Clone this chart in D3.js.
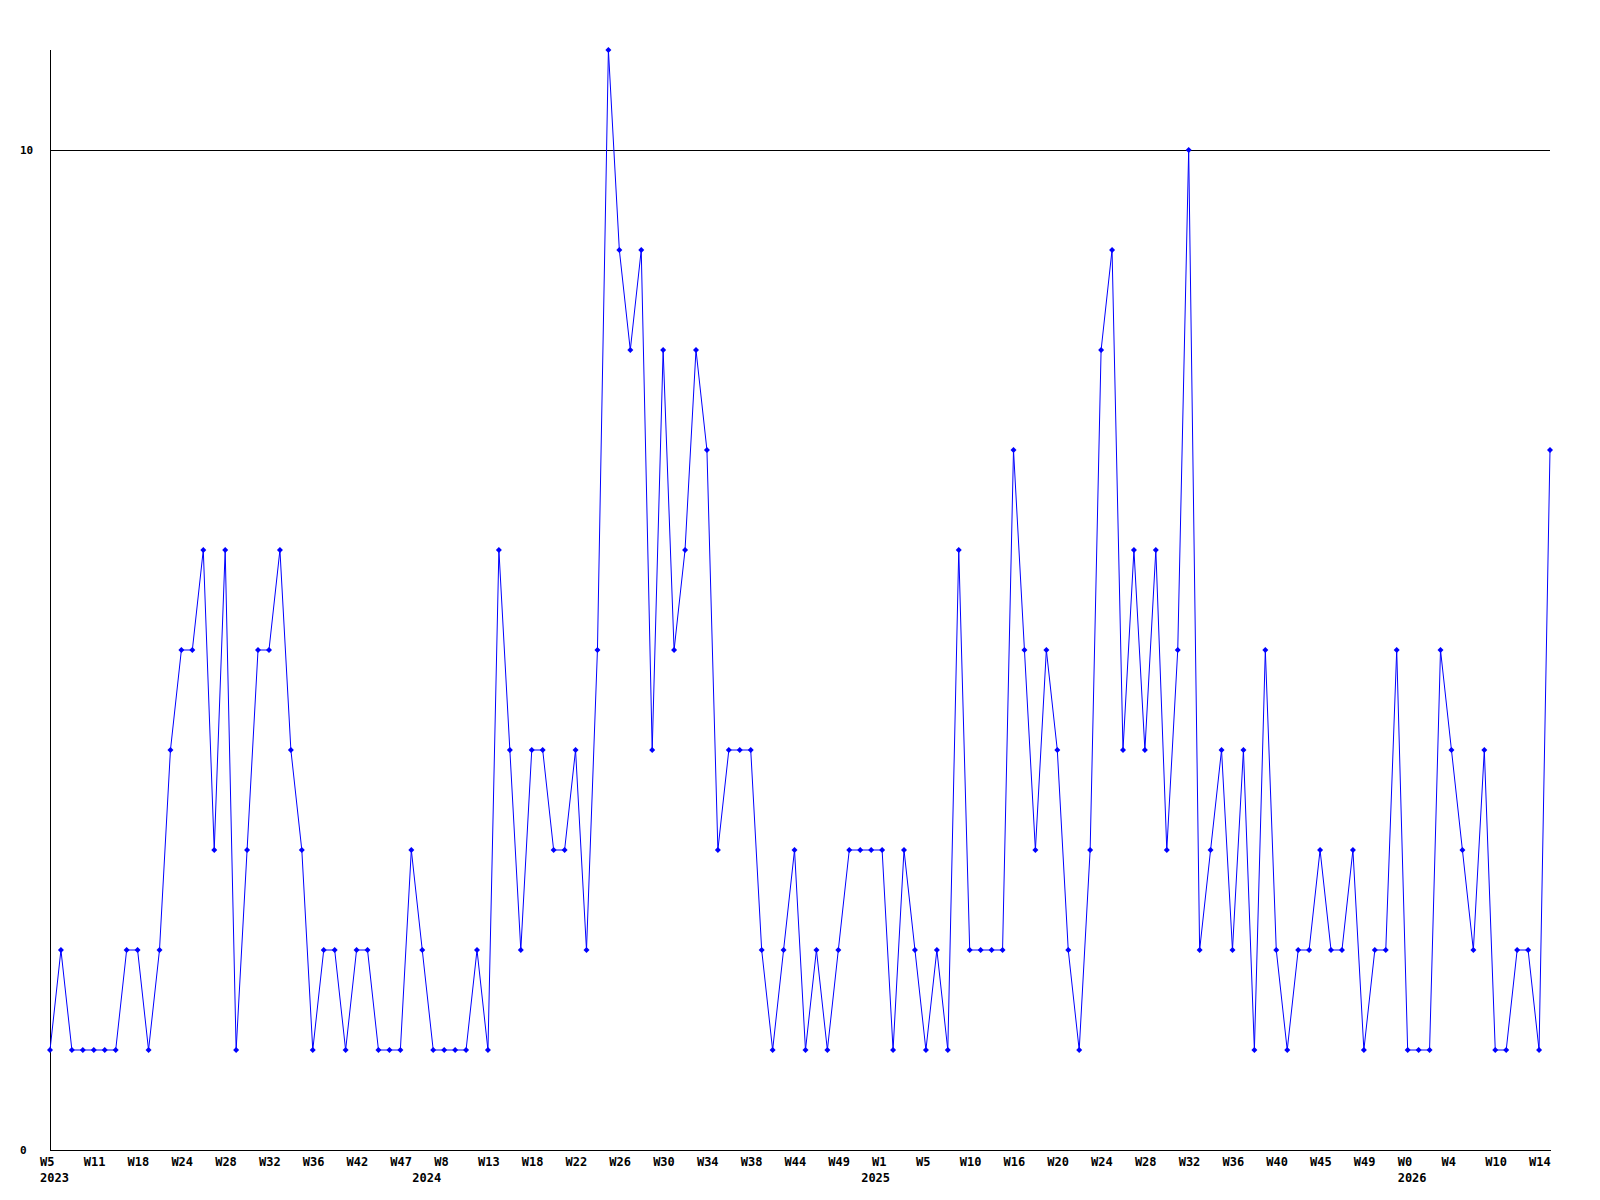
<!DOCTYPE html>
<html>
<head>
<meta charset="utf-8">
<script src="https://cdn.jsdelivr.net/npm/d3@7"></script>
<style>
  html, body { margin: 0; padding: 0; background: #ffffff; }
  svg { display: block; }
</style>
</head>
<body>
<svg id="chart" width="1600" height="1200"></svg>
<script>
// ---- data ----
const values = [
  1,2,1,1,1,1,1,2,2,1,2,
  4,5,5,6,3,6,1,3,5,5,
  6,4,3,1,2,2,1,2,2,1,
  1,1,3,2,1,1,1,1,2,1,
  6,4,2,4,4,3,3,4,2,5,
  11,9,8,9,4,8,5,6,8,7,
  3,4,4,4,2,1,2,3,1,2,
  1,2,3,3,3,3,1,3,2,1,
  2,1,6,2,2,2,2,7,5,3,
  5,4,2,1,3,8,9,4,6,4,
  6,3,5,10,2,3,4,2,4,1,
  5,2,1,2,2,3,2,2,3,1,
  2,2,5,1,1,1,5,4,3,2,
  4,1,1,2,2,1,7
];
const weekLabels = ["W5","W11","W18","W24","W28","W32","W36","W42","W47","W8","W13","W18",
  "W22","W26","W30","W34","W38","W44","W49","W1","W5","W10","W16","W20","W24","W28",
  "W32","W36","W40","W45","W49","W0","W4","W10","W14"];
const weekLabelStep = 4;
const yearLabels = ["2023","2024","2025","2026"];
const yearStartIndex = [0, 34, 75, 124];
const yTicks = [0, 10];

// ---- layout ----
const plotLeft = 50, plotRight = 1550, plotTop = 50, plotBottom = 1150;
const svg = d3.select("#chart");

const x = d3.scaleLinear().domain([0, values.length - 1]).range([plotLeft, plotRight]);
const y = d3.scaleLinear().domain([0, 11]).range([plotBottom, plotTop]);

// grid line(s)
svg.append("g").selectAll("line")
  .data(yTicks.filter(t => t !== 0))
  .join("line")
  .attr("x1", plotLeft).attr("x2", plotRight)
  .attr("y1", d => Math.round(y(d)) + 0.5).attr("y2", d => Math.round(y(d)) + 0.5)
  .attr("stroke", "#000").attr("stroke-width", 1)
  .attr("shape-rendering", "crispEdges");

// axes
svg.append("line")
  .attr("x1", plotLeft + 0.5).attr("x2", plotLeft + 0.5)
  .attr("y1", plotTop).attr("y2", plotBottom + 1)
  .attr("stroke", "#000").attr("shape-rendering", "crispEdges");
svg.append("line")
  .attr("x1", plotLeft).attr("x2", plotRight + 1)
  .attr("y1", plotBottom + 0.5).attr("y2", plotBottom + 0.5)
  .attr("stroke", "#000").attr("shape-rendering", "crispEdges");

// y labels
svg.append("g").selectAll("text")
  .data(yTicks)
  .join("text")
  .attr("x", 20)
  .attr("y", d => y(d))
  .attr("dy", "0.35em")
  .attr("font-family", "DejaVu Sans Mono, monospace")
  .attr("font-weight", "bold")
  .attr("font-size", 11)
  .attr("fill", "#000")
  .text(d => d);

// x week labels
svg.append("g").selectAll("text")
  .data(weekLabels)
  .join("text")
  .attr("x", (d, i) => x(i * weekLabelStep) - 10)
  .attr("y", plotBottom + 16)
  .attr("font-family", "DejaVu Sans Mono, monospace")
  .attr("font-weight", "bold")
  .attr("font-size", 12)
  .attr("fill", "#000")
  .text(d => d);

// year labels
svg.append("g").selectAll("text")
  .data(yearLabels)
  .join("text")
  .attr("x", (d, i) => x(yearStartIndex[i]) - 10)
  .attr("y", plotBottom + 32)
  .attr("font-family", "DejaVu Sans Mono, monospace")
  .attr("font-weight", "bold")
  .attr("font-size", 12)
  .attr("fill", "#000")
  .text(d => d);

// line
const line = d3.line().x((d, i) => x(i)).y(d => y(d));
svg.append("path")
  .datum(values)
  .attr("d", line)
  .attr("fill", "none")
  .attr("stroke", "#0000ff")
  .attr("stroke-width", 1);

// markers
svg.append("g").selectAll("path")
  .data(values)
  .join("path")
  .attr("transform", (d, i) => `translate(${x(i)},${y(d)})`)
  .attr("d", "M0,-3L3,0L0,3L-3,0Z")
  .attr("fill", "#0000ff");
</script>
</body>
</html>
